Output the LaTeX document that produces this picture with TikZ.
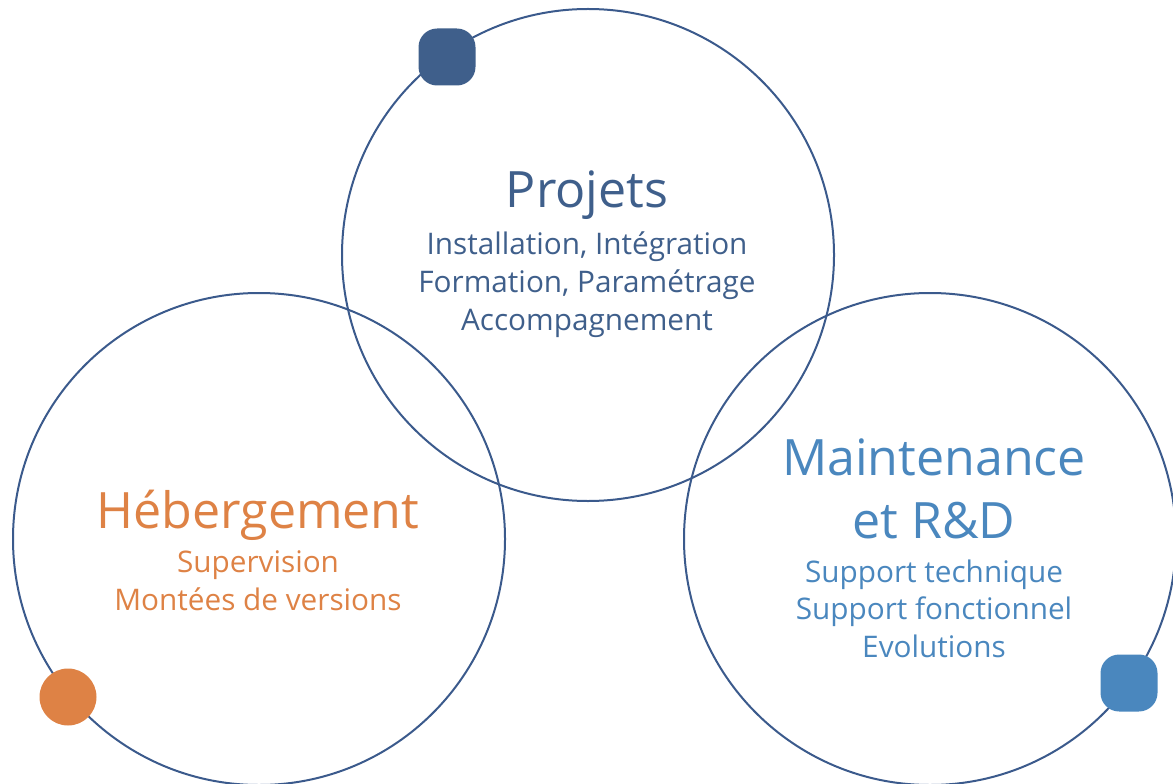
\documentclass[tikz,border=0pt]{standalone}
\usepackage{fontspec}
\setmainfont{Open Sans}
\usepackage{tikz}
\usetikzlibrary{positioning}

\definecolor{ringblue}{RGB}{59,90,140}
\definecolor{projblue}{RGB}{63,95,139}
\definecolor{hostorange}{RGB}{222,130,69}
\definecolor{maintblue}{RGB}{74,135,190}

\begin{document}
\begin{tikzpicture}[x=0.75pt, y=-0.75pt]
    \tikzstyle{ring} = [draw=ringblue, line width=1.5pt, circle, minimum size=369pt, inner sep=0pt];
    \tikzstyle{squaredot} = [fill, rectangle, rounded corners=14pt, minimum size=42.75pt, inner sep=0pt];
    \tikzstyle{rounddot} = [fill, circle, minimum size=42.75pt, inner sep=0pt];
    \tikzstyle{title} = [anchor=base, inner sep=0pt, font=\fontsize{37.6}{46}\selectfont];
    \tikzstyle{item} = [anchor=base, inner sep=0pt, font=\fontsize{22.3}{28}\selectfont];
    \useasboundingbox (0,0) rectangle (1173,784);

    \node[ring] (projring) at (588,255) {};
    \node[ring] (hostring) at (259,539) {};
    \node[ring] (maintring) at (930,539) {};

    \node[squaredot, projblue] (projdot) at (447,57) {};
    \node[rounddot, hostorange] (hostdot) at (68,697) {};
    \node[squaredot, maintblue] (maintdot) at (1129,683) {};

    \node[title, projblue] (projets) at (587,208) {Projets};
    \node[item, projblue] (install) at (587,254) {Installation, Intégration};
    \node[item, projblue] (formation) at (587,292) {Formation, Paramétrage};
    \node[item, projblue] (accomp) at (587,330) {Accompagnement};

    \node[title, hostorange] (hebergement) at (258,528) {Hébergement};
    \node[item, hostorange] (supervision) at (258,572) {Supervision};
    \node[item, hostorange] (montees) at (258,610) {Montées de versions};

    \node[title, maintblue] (maintenance) at (934,475) {Maintenance};
    \node[title, maintblue] (rnd) at (934,538) {et R\&D};
    \node[item, maintblue] (suptech) at (934,582) {Support technique};
    \node[item, maintblue] (supfonc) at (934,619) {Support fonctionnel};
    \node[item, maintblue] (evol) at (934,657) {Evolutions};
\end{tikzpicture}
\end{document}
